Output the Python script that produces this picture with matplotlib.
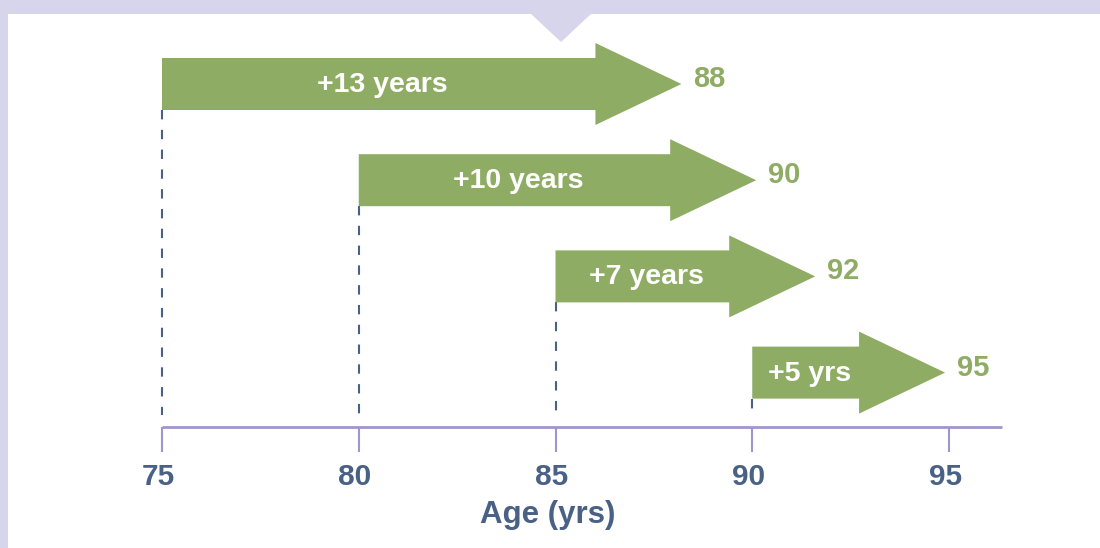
import matplotlib.pyplot as plt
from matplotlib.patches import Polygon, Rectangle

# data
start_age = [75, 80, 85, 90]
tip_age = [88.2, 90.1, 91.6, 94.9]       # where the arrow heads end
end_label = ['88', '90', '92', '95']
gain_label = ['+13 years', '+10 years', '+7 years', '+5 yrs']
tick_age = [75, 80, 85, 90, 95]

green = '#8fac64'
navy = '#4a6186'
lav = '#d6d5eb'
purple = '#a096cc'

plt.rcParams['font.family'] = ['Liberation Sans', 'DejaVu Sans']
plt.rcParams['font.weight'] = 'bold'

W, H = 1100, 548
fig = plt.figure(figsize=(11, 5.48), dpi=100)
ax = fig.add_axes([0, 0, 1, 1])

# scale: one year ~39.35 px, one row ~96.2 px
px_yr = 39.35
row_px = 96.2
x0 = 75 - 162 / px_yr
ax.set_xlim(x0, x0 + W / px_yr)
ax.set_ylim((H - 84) / row_px, -84 / row_px)
ax.axis('off')

body_h = 26 / row_px
head_h = 41 / row_px
head_len = 86 / px_yr
axis_y = (427 - 84) / row_px

for i in range(len(start_age)):
    s = start_age[i]
    e = tip_age[i]
    b = e - head_len
    pts = [(s, i - body_h), (b, i - body_h), (b, i - head_h), (e, i),
           (b, i + head_h), (b, i + body_h), (s, i + body_h)]
    ax.add_patch(Polygon(pts, closed=True, facecolor=green, edgecolor='none', zorder=3))
    ax.text((s + b) / 2 + 0.1, i + 8 / row_px, gain_label[i], color='white', fontsize=20.5,
            fontweight='bold', ha='center', va='baseline', zorder=4)
    ax.text(e + 0.3, i + 3 / row_px, end_label[i], color=green, fontsize=21,
            fontweight='bold', ha='left', va='baseline')
    # dashed guide down to the axis
    ax.plot([s, s], [i + body_h, axis_y - 12 / row_px], color=navy, lw=1.5,
            ls=(0, (4.5, 5)), zorder=2)

# axis line and ticks
ax.plot([75, 96.35], [axis_y, axis_y], color=purple, lw=2, solid_capstyle='butt')
ax.vlines(tick_age, axis_y, axis_y + 25 / row_px, color=purple, lw=1.5)
for t in tick_age:
    ax.text(t - 0.1, (485 - 84) / row_px, str(t), color=navy, fontsize=21.5,
            fontweight='bold', ha='center', va='baseline')
ax.text(84.8, (523 - 84) / row_px, 'Age (yrs)', color=navy, fontsize=22.5,
        fontweight='bold', ha='center', va='baseline')

# frame decoration: top band, left strip, pointer triangle
fig.patches.append(Rectangle((0, 1 - 14 / H), 1, 14 / H, transform=fig.transFigure,
                             facecolor=lav, edgecolor='none'))
fig.patches.append(Rectangle((0, 0), 8 / W, 1, transform=fig.transFigure,
                             facecolor=lav, edgecolor='none'))
fig.patches.append(Polygon([(530 / W, 1 - 13 / H), (592 / W, 1 - 13 / H), (561 / W, 1 - 42 / H)],
                           closed=True, transform=fig.transFigure,
                           facecolor=lav, edgecolor='none'))

fig.savefig('out.png', dpi=100)
